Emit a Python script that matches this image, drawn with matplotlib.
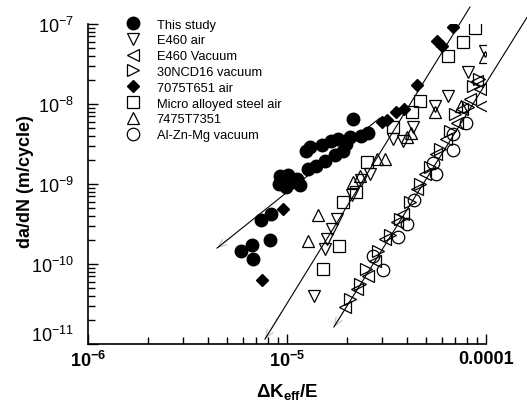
import numpy as np
import matplotlib
matplotlib.use('Agg')
import matplotlib.pyplot as plt
import matplotlib.transforms as mtransforms

plt.rcParams['font.family'] = ['Liberation Sans', 'DejaVu Sans']
plt.rcParams['mathtext.fontset'] = 'custom'
plt.rcParams['mathtext.rm'] = 'Liberation Sans'
plt.rcParams['mathtext.it'] = 'Liberation Sans:italic'
plt.rcParams['mathtext.bf'] = 'Liberation Sans:bold'

# ---- data (x = dK_eff/E, y = da/dN in m/cycle) ----
study_x = [5.9e-6, 6.7e-6, 6.75e-6, 7.4e-6, 8.3e-6, 8.2e-6, 9.1e-6, 9.55e-6, 1.01e-5,
           9.9e-6, 1.06e-5, 1.12e-5, 1.16e-5, 1.25e-5, 1.31e-5, 1.40e-5, 1.27e-5, 1.50e-5,
           1.55e-5, 1.66e-5, 1.74e-5, 1.80e-5, 1.91e-5, 2.07e-5, 2.15e-5, 2.35e-5, 2.55e-5,
           1.98e-5, 9.2e-6]
study_y = [1.45e-10, 1.73e-10, 1.15e-10, 3.55e-10, 4.2e-10, 2.0e-10, 1.0e-9, 1.15e-9, 1.3e-9,
           9.2e-10, 1.06e-9, 1.15e-9, 9.7e-10, 2.58e-9, 2.9e-9, 1.68e-9, 1.54e-9, 3.07e-9,
           1.94e-9, 3.45e-9, 2.3e-9, 3.65e-9, 2.58e-9, 3.87e-9, 6.5e-9, 3.98e-9, 4.34e-9,
           3.16e-9, 1.26e-9]

e460air_x = [1.37e-5, 1.55e-5, 1.59e-5, 1.68e-5, 1.78e-5, 2.61e-5, 3.41e-5, 3.83e-5, 4.3e-5,
             6.44e-5, 8.12e-5, 5.54e-5, 9.89e-5, 2.12e-5, 2.35e-5]
e460air_y = [3.98e-11, 1.54e-10, 2.05e-10, 2.74e-10, 3.65e-10, 1.33e-9, 3.65e-9, 3.45e-9, 5.16e-9,
             1.26e-8, 2.51e-8, 9.44e-9, 4.6e-8, 7.3e-10, 1.12e-9]

e460vac_x = [1.96e-5, 2.25e-5, 2.55e-5, 2.77e-5, 3.11e-5, 3.57e-5, 3.83e-5, 4.5e-5, 4.94e-5,
             5.61e-5, 6.3e-5, 7.15e-5, 7.57e-5, 8.31e-5, 9.55e-5, 9.33e-5, 9.01e-5]
e460vac_y = [2.9e-11, 4.87e-11, 7.08e-11, 1.09e-10, 2.05e-10, 3.35e-10, 4.22e-10, 8.66e-10, 1.33e-9,
             2.37e-9, 3.65e-9, 5.79e-9, 8.66e-9, 1.15e-8, 9.44e-9, 1.54e-8, 1.94e-8]

ncd_x = [2.07e-5, 2.33e-5, 2.49e-5, 2.87e-5, 3.29e-5, 3.70e-5, 4.15e-5, 4.66e-5, 5.23e-5,
         5.87e-5, 6.59e-5, 6.98e-5, 8.12e-5, 8.6e-5, 9.22e-5]
ncd_y = [3.65e-11, 5.62e-11, 8.66e-11, 1.45e-10, 2.3e-10, 3.65e-10, 5.96e-10, 1.0e-9, 1.63e-9,
         2.74e-9, 4.6e-9, 7.5e-9, 9.17e-9, 1.68e-8, 2.05e-8]

al7075_x = [7.5e-6, 9.55e-6, 3.0e-5, 3.18e-5, 3.53e-5, 3.87e-5, 4.5e-5, 5.67e-5, 6.01e-5, 6.83e-5]
al7075_y = [6.3e-11, 4.87e-10, 5.96e-9, 6.31e-9, 7.94e-9, 8.66e-9, 1.73e-8, 6.13e-8, 5.31e-8, 9.17e-8]

micro_x = [1.52e-5, 1.83e-5, 1.91e-5, 2.22e-5, 2.52e-5, 3.41e-5, 4.25e-5, 4.66e-5, 6.44e-5,
           7.66e-5, 8.81e-5]
micro_y = [8.66e-11, 1.68e-10, 5.96e-10, 7.94e-10, 1.88e-9, 5.16e-9, 7.94e-9, 1.09e-8, 3.98e-8,
           5.96e-8, 8.91e-8]

al7475_x = [1.27e-5, 1.43e-5, 2.15e-5, 2.33e-5, 2.83e-5, 3.11e-5, 4.0e-5, 4.2e-5, 5.54e-5,
            9.89e-5, 7.49e-5]
al7475_y = [1.94e-10, 4.1e-10, 1.06e-9, 1.26e-9, 2.05e-9, 2.05e-9, 3.87e-9, 4.34e-9, 7.94e-9,
            3.87e-8, 9.44e-9]

alznmg_x = [2.71e-5, 3.04e-5, 3.61e-5, 4.01e-5, 4.35e-5, 5.42e-5, 5.61e-5, 6.83e-5, 6.83e-5, 7.93e-5]
alznmg_y = [1.26e-10, 8.41e-11, 2.18e-10, 3.16e-10, 6.31e-10, 1.83e-9, 1.33e-9, 2.66e-9, 4.22e-9, 5.79e-9]

# fitted lines (end points)
fit1_x = [4.45e-6, 2.93e-5]
fit1_y = [1.58e-10, 6.68e-9]
fit2_x = [7.75e-6, 8.31e-5]
fit2_y = [1.15e-11, 1.63e-7]
fit3_x = [1.72e-5, 1.61e-4]
fit3_y = [1.63e-11, 1.22e-7]

labels = ['This study', 'E460 air', 'E460 Vacuum', '30NCD16 vacuum', '7075T651 air',
          'Micro alloyed steel air', '7475T7351', 'Al-Zn-Mg vacuum']

fig = plt.figure(figsize=(5.27, 4.06), dpi=100)
ax = fig.add_axes([88/527, 61/406, 398/527, 320/406])

for fx, fy in [(fit1_x, fit1_y), (fit2_x, fit2_y), (fit3_x, fit3_y)]:
    ax.plot(fx, fy, 'k-', lw=0.8, clip_on=False, zorder=1)
    # faint grey arrow head at the low end of each fit line
    lx = np.log10(fx)
    ly = np.log10(fy)
    f = 0.08
    tail = (10**(lx[0] + f*(lx[1]-lx[0])), 10**(ly[0] + f*(ly[1]-ly[0])))
    ax.annotate('', xy=(fx[0], fy[0]), xytext=tail, zorder=0.5,
                arrowprops=dict(arrowstyle='->,head_length=0.6,head_width=0.25',
                                color='0.75', lw=0.8, shrinkA=0, shrinkB=0))

ow = dict(mfc='none', mec='k', mew=0.9, ls='none')
h = []
h += ax.plot(study_x, study_y, 'o', ms=9, color='k', ls='none', zorder=3)
h += ax.plot(e460air_x, e460air_y, 'v', ms=8.5, **ow)
h += ax.plot(e460vac_x, e460vac_y, '<', ms=8.5, **ow)
h += ax.plot(ncd_x, ncd_y, '>', ms=8.5, **ow)
h += ax.plot(al7075_x, al7075_y, 'D', ms=6.5, color='k', ls='none', zorder=3)
h += ax.plot(micro_x, micro_y, 's', ms=9, **ow)
h += ax.plot(al7475_x, al7475_y, '^', ms=8.5, **ow)
h += ax.plot(alznmg_x, alznmg_y, 'o', ms=9, **ow)

ax.set_xscale('log')
ax.set_yscale('log')
ax.set_xlim(1e-6, 1e-4)
ax.set_ylim(1e-11, 1e-7)

ax.spines['top'].set_visible(False)
ax.spines['right'].set_visible(False)
for s in ['left', 'bottom']:
    ax.spines[s].set_linewidth(1.2)

ax.tick_params(which='both', direction='in', width=1, color='k')
ax.tick_params(which='major', length=7)
ax.tick_params(which='minor', length=5)
ax.tick_params(axis='y', labelsize=13, pad=10)
ax.tick_params(axis='x', labelsize=13, pad=4)

ax.set_xticks([1e-6, 1e-5, 1e-4])
ax.set_xticklabels([r'$\mathbf{10^{-6}}$', r'$\mathbf{10^{-5}}$', '0.0001'], fontweight='bold')
ax.set_yticks([1e-11, 1e-10, 1e-9, 1e-8, 1e-7])
ax.set_yticklabels([r'$\mathregular{10^{-11}}$', r'$\mathregular{10^{-10}}$',
                    r'$\mathregular{10^{-9}}$', r'$\mathregular{10^{-8}}$',
                    r'$\mathregular{10^{-7}}$'])
# lift the lowest y label a little so it clears the 10^-6 label
lab = ax.get_yticklabels()[0]
lab.set_verticalalignment('baseline')
lab.set_transform(lab.get_transform() +
                  mtransforms.ScaledTranslation(0, 2/72, fig.dpi_scale_trans))

ax.set_xlabel(r'$\mathbf{\Delta K_{eff}/E}$', fontsize=13.5, labelpad=8)
ax.set_ylabel('da/dN (m/cycle)', fontsize=13, fontweight='bold')
ax.yaxis.set_label_coords(-0.135, 0.51)

ax.legend(h, labels, loc='upper left', bbox_to_anchor=(0.08, 1.033), frameon=False,
          fontsize=9.3, handletextpad=1.25, labelspacing=0.29, borderaxespad=0,
          handlelength=1.2)

fig.savefig('out.png', dpi=100)
